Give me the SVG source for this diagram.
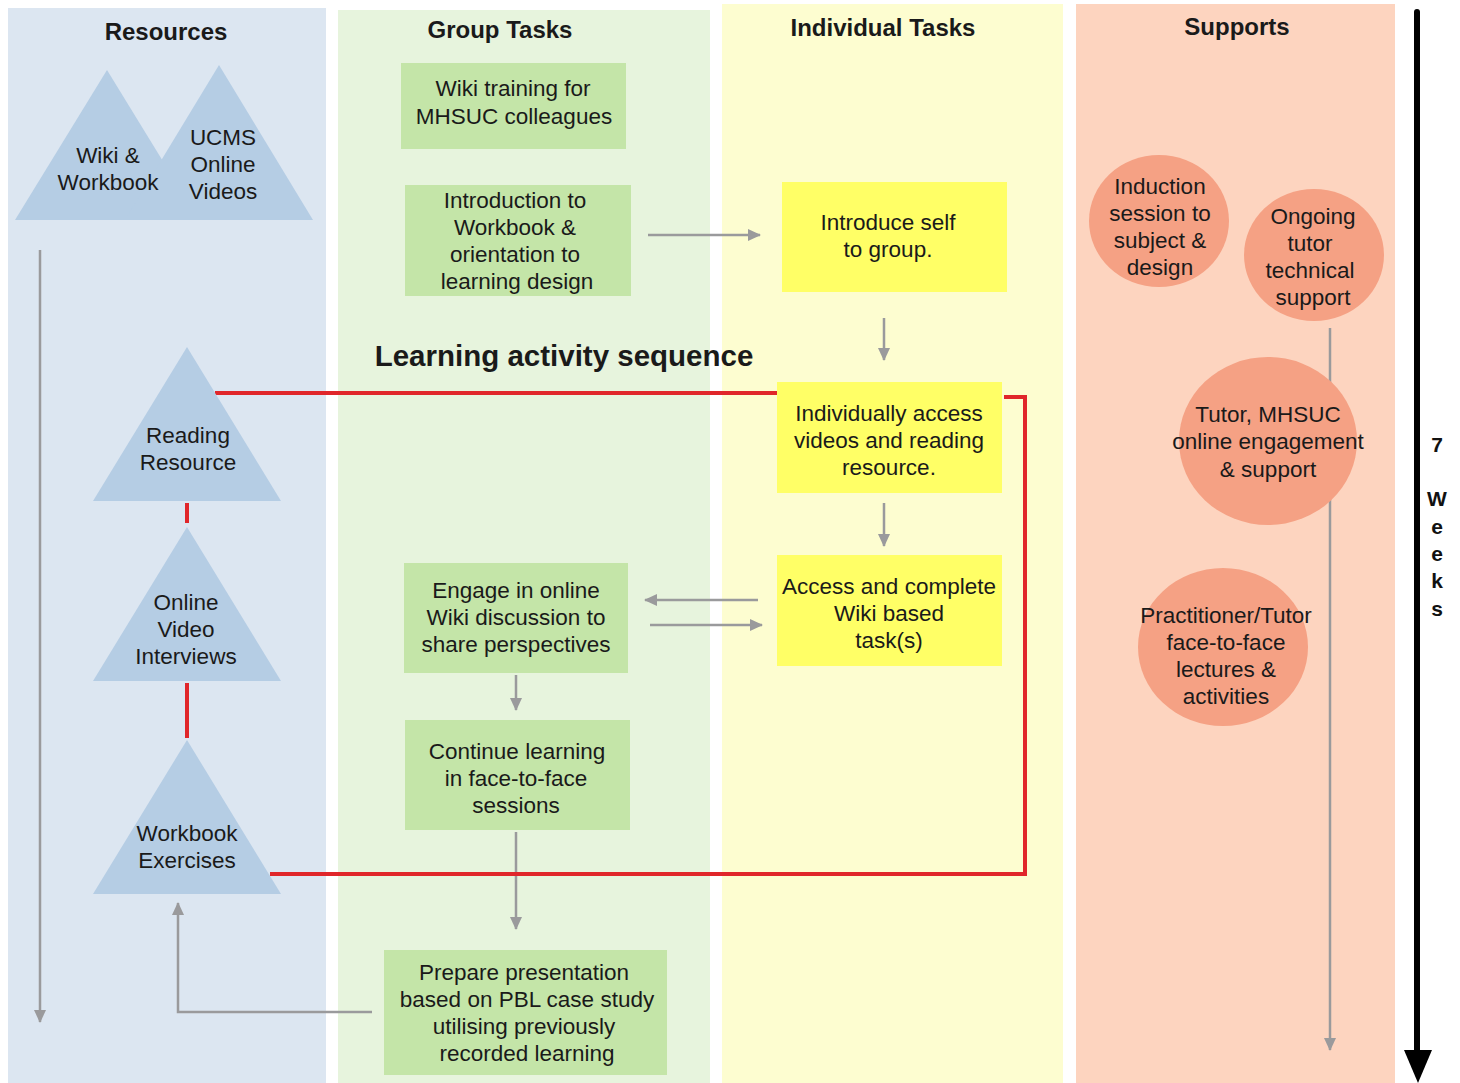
<svg xmlns="http://www.w3.org/2000/svg" width="1460" height="1083" viewBox="0 0 1460 1083">
  <style>
    .t { font-family: "Liberation Sans", Arial, sans-serif; font-size: 22.5px; fill: #1a1a1a; text-anchor: middle; }
    .h { font-family: "Liberation Sans", Arial, sans-serif; font-size: 24px; font-weight: bold; fill: #1a1a1a; text-anchor: middle; }
    .wk { font-family: "Liberation Sans", Arial, sans-serif; font-size: 21px; font-weight: bold; fill: #111; text-anchor: middle; }
    .tri { fill: #b5cde4; }
    .gbox { fill: #c4e5a8; }
    .ybox { fill: #ffff66; }
    .circ { fill: #f5a184; }
    .arr { stroke: #9a9a9c; stroke-width: 2.5; fill: none; marker-end: url(#ah); }
    .red { stroke: #e0262a; stroke-width: 4; fill: none; }
  </style>
  <defs>
    <marker id="ah" markerUnits="userSpaceOnUse" markerWidth="14" markerHeight="12" refX="12" refY="6" orient="auto">
      <path d="M0,0 L13,6 L0,12 Z" fill="#9a9a9c"/>
    </marker>
  </defs>

  <rect width="1460" height="1083" fill="#ffffff"/>

  <!-- swim lanes -->
  <g id="lanes">
    <rect x="8" y="8" width="318" height="1075" fill="#dce6f1"/>
    <rect x="338" y="10" width="372" height="1073" fill="#e7f4dd"/>
    <rect x="722" y="4" width="341" height="1079" fill="#fdfdd0"/>
    <rect x="1076" y="4" width="319" height="1079" fill="#fdd4bf"/>
    <text class="h" x="166" y="40">Resources</text>
    <text class="h" x="500" y="38">Group Tasks</text>
    <text class="h" x="883" y="36">Individual Tasks</text>
    <text class="h" x="1237" y="35">Supports</text>
    <text class="h" x="564" y="366" style="font-size:29.5px">Learning activity sequence</text>
  </g>

  <!-- connectors -->
  <g id="connectors">
    <line class="arr" x1="40" y1="250" x2="40" y2="1022"/>
    <line class="arr" x1="648" y1="235" x2="760" y2="235"/>
    <line class="arr" x1="884" y1="318" x2="884" y2="360"/>
    <line class="arr" x1="884" y1="503" x2="884" y2="546"/>
    <line class="arr" x1="758" y1="600" x2="645" y2="600"/>
    <line class="arr" x1="650" y1="625" x2="762" y2="625"/>
    <line class="arr" x1="516" y1="675" x2="516" y2="710"/>
    <line class="arr" x1="516" y1="832" x2="516" y2="929"/>
    <polyline class="arr" points="372,1012 178,1012 178,903"/>
    <line class="arr" x1="1330" y1="328" x2="1330" y2="1050"/>
    <line class="red" x1="215" y1="393" x2="777" y2="393"/>
    <polyline class="red" points="1004,397 1025,397 1025,874 270,874"/>
    <line class="red" x1="187" y1="503" x2="187" y2="523"/>
    <line class="red" x1="187" y1="683" x2="187" y2="738"/>
  </g>

  <!-- resources -->
  <g id="res-wiki-ucms">
    <polygon class="tri" points="15,220 107,70 199,220"/>
    <polygon class="tri" points="125,220 219,65 313,220"/>
    <text class="t" x="108" y="163">Wiki &amp;</text>
    <text class="t" x="108" y="190">Workbook</text>
    <text class="t" x="223" y="145">UCMS</text>
    <text class="t" x="223" y="172">Online</text>
    <text class="t" x="223" y="199">Videos</text>
  </g>
  <g id="res-reading">
    <polygon class="tri" points="93,501 187,347 281,501"/>
    <text class="t" x="188" y="443">Reading</text>
    <text class="t" x="188" y="470">Resource</text>
  </g>
  <g id="res-video">
    <polygon class="tri" points="93,681 187,527 281,681"/>
    <text class="t" x="186" y="610">Online</text>
    <text class="t" x="186" y="637">Video</text>
    <text class="t" x="186" y="664">Interviews</text>
  </g>
  <g id="res-workbook">
    <polygon class="tri" points="93,894 187,740 281,894"/>
    <text class="t" x="187" y="841">Workbook</text>
    <text class="t" x="187" y="868">Exercises</text>
  </g>

  <!-- group tasks -->
  <g id="g-wiki-training">
    <rect class="gbox" x="401" y="63" width="225" height="86"/>
    <text class="t" x="513" y="96">Wiki training for</text>
    <text class="t" x="514" y="124">MHSUC colleagues</text>
  </g>
  <g id="g-intro">
    <rect class="gbox" x="405" y="185" width="226" height="111"/>
    <text class="t" x="515" y="208">Introduction to</text>
    <text class="t" x="515" y="235">Workbook &amp;</text>
    <text class="t" x="515" y="262">orientation to</text>
    <text class="t" x="517" y="289">learning design</text>
  </g>
  <g id="g-engage">
    <rect class="gbox" x="404" y="563" width="224" height="110"/>
    <text class="t" x="516" y="598">Engage in online</text>
    <text class="t" x="516" y="625">Wiki discussion to</text>
    <text class="t" x="516" y="652">share perspectives</text>
  </g>
  <g id="g-continue">
    <rect class="gbox" x="405" y="720" width="225" height="110"/>
    <text class="t" x="517" y="759">Continue learning</text>
    <text class="t" x="516" y="786">in face-to-face</text>
    <text class="t" x="516" y="813">sessions</text>
  </g>
  <g id="g-prepare">
    <rect class="gbox" x="384" y="950" width="283" height="125"/>
    <text class="t" x="524" y="980">Prepare presentation</text>
    <text class="t" x="527" y="1007">based on PBL case study</text>
    <text class="t" x="524" y="1034">utilising previously</text>
    <text class="t" x="527" y="1061">recorded learning</text>
  </g>

  <!-- individual tasks -->
  <g id="i-introduce">
    <rect class="ybox" x="782" y="182" width="225" height="110"/>
    <text class="t" x="888" y="230">Introduce self</text>
    <text class="t" x="888" y="257">to group.</text>
  </g>
  <g id="i-access">
    <rect class="ybox" x="777" y="382" width="225" height="111"/>
    <text class="t" x="889" y="421">Individually access</text>
    <text class="t" x="889" y="448">videos and reading</text>
    <text class="t" x="889" y="475">resource.</text>
  </g>
  <g id="i-wiki-task">
    <rect class="ybox" x="777" y="555" width="225" height="111"/>
    <text class="t" x="889" y="594">Access and complete</text>
    <text class="t" x="889" y="621">Wiki based</text>
    <text class="t" x="889" y="648">task(s)</text>
  </g>

  <!-- supports -->
  <g id="s-induction">
    <ellipse class="circ" cx="1159" cy="221" rx="70" ry="66"/>
    <text class="t" x="1160" y="194">Induction</text>
    <text class="t" x="1160" y="221">session to</text>
    <text class="t" x="1160" y="248">subject &amp;</text>
    <text class="t" x="1160" y="275">design</text>
  </g>
  <g id="s-ongoing">
    <ellipse class="circ" cx="1314" cy="255" rx="70" ry="66"/>
    <text class="t" x="1313" y="224">Ongoing</text>
    <text class="t" x="1310" y="251">tutor</text>
    <text class="t" x="1310" y="278">technical</text>
    <text class="t" x="1313" y="305">support</text>
  </g>
  <g id="s-online">
    <ellipse class="circ" cx="1268" cy="441" rx="89" ry="84"/>
    <text class="t" x="1268" y="422">Tutor, MHSUC</text>
    <text class="t" x="1268" y="449">online engagement</text>
    <text class="t" x="1268" y="477">&amp; support</text>
  </g>
  <g id="s-f2f">
    <ellipse class="circ" cx="1223" cy="647" rx="85" ry="79"/>
    <text class="t" x="1226" y="623">Practitioner/Tutor</text>
    <text class="t" x="1226" y="650">face-to-face</text>
    <text class="t" x="1226" y="677">lectures &amp;</text>
    <text class="t" x="1226" y="704">activities</text>
  </g>

  <!-- timeline -->
  <g id="timeline">
    <line x1="1417" y1="12" x2="1417" y2="1055" stroke="#000" stroke-width="6" stroke-linecap="round"/>
    <polygon points="1404,1050 1432,1050 1418,1083" fill="#000"/>
    <text class="wk" x="1437" y="452">7</text>
    <text class="wk" x="1437" y="506">W</text>
    <text class="wk" x="1437" y="534">e</text>
    <text class="wk" x="1437" y="561">e</text>
    <text class="wk" x="1437" y="588">k</text>
    <text class="wk" x="1437" y="616">s</text>
  </g>
</svg>
